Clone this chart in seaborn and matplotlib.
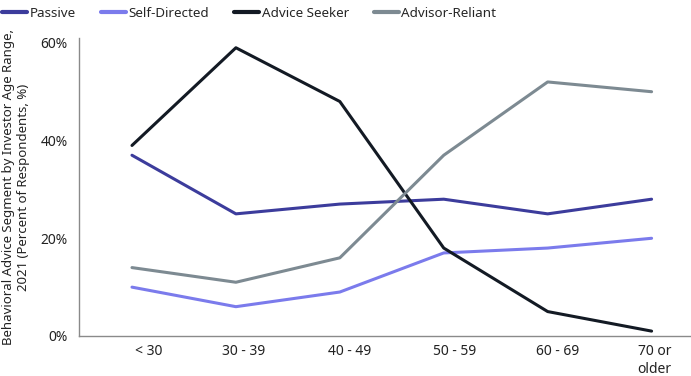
import pandas as pd
import seaborn as sns
import matplotlib.pyplot as plt
from matplotlib.ticker import FuncFormatter

# ---- data (percent of respondents) ----
age_ranges = ['< 30', '30 - 39', '40 - 49', '50 - 59', '60 - 69', '70 or\nolder']
passive = [37, 25, 27, 28, 25, 28]
self_directed = [10, 6, 9, 17, 18, 20]
advice_seeker = [39, 59, 48, 18, 5, 1]
advisor_reliant = [14, 11, 16, 37, 52, 50]

segments = ['Passive', 'Self-Directed', 'Advice Seeker', 'Advisor-Reliant']
colors = ['#3c3c9c', '#7b7bec', '#131a24', '#7d8a92']
# tick labels sit a little right of the points in the original
label_shift = [0.16, 0.07, 0.09, 0.1, 0.1, 0.03]

rows = []
for seg, vals in zip(segments, [passive, self_directed, advice_seeker, advisor_reliant]):
    for i, v in enumerate(vals):
        rows.append({'age': i, 'value': v, 'segment': seg})
df = pd.DataFrame(rows)

sns.set_style('white')
plt.rcParams['font.family'] = ['Noto Sans', 'DejaVu Sans']

fig = plt.figure(figsize=(6.91, 3.76), dpi=100)
ax = fig.add_axes([0.1143, 0.1064, 0.8843, 0.7926])

sns.lineplot(data=df, x='age', y='value', hue='segment', hue_order=segments,
             palette=colors, linewidth=2.2, ax=ax, legend=False)

ax.set_xlim(-0.51, 5.37)
ax.set_ylim(0, 61)
ax.set_xticks([i + s for i, s in enumerate(label_shift)])
ax.set_xticklabels(age_ranges, fontsize=10, color='#222222')
ax.set_yticks([0, 20, 40, 60])
ax.yaxis.set_major_formatter(FuncFormatter(lambda v, p: '%d%%' % v))
ax.tick_params(axis='y', labelsize=10, colors='#222222', length=0, pad=8)
ax.tick_params(axis='x', length=0, pad=6)
ax.set_xlabel('')
ax.set_ylabel('Behavioral Advice Segment by Investor Age Range,\n2021 (Percent of Respondents, %)',
              fontsize=9.5, color='#222222', labelpad=8, linespacing=1.15)
for s in ['top', 'right']:
    ax.spines[s].set_visible(False)
for s in ['left', 'bottom']:
    ax.spines[s].set_color('#8a8a8a')
    ax.spines[s].set_linewidth(1)

handles = [plt.Line2D([], [], color=c, linewidth=3) for c in colors]
fig.legend(handles, segments, loc='upper left', bbox_to_anchor=(0.003, 0.982), ncol=4,
           frameon=False, fontsize=9.7, handlelength=1.85, handletextpad=0.2,
           columnspacing=1.85, borderpad=0, borderaxespad=0)

plt.savefig('out.png', dpi=100)
plt.close()
